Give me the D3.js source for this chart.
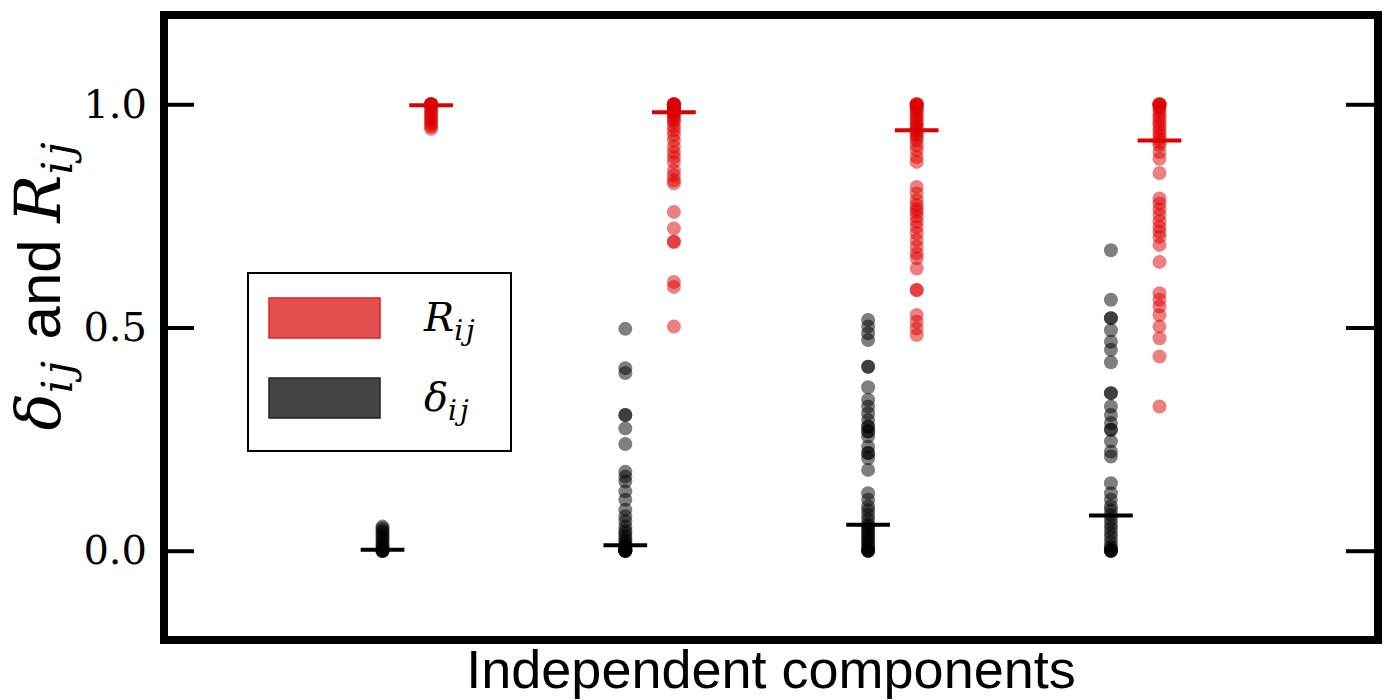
<!DOCTYPE html>
<html>
<head>
<meta charset="utf-8">
<script src="https://cdn.jsdelivr.net/npm/d3@7"></script>
<style>
  body { margin: 0; background: #fff; }
  svg { display: block; }
</style>
</head>
<body>
<div id="chart"></div>
<script>
// component index of each group
const components = [1, 2, 3, 4];

// R_ij values per component (red)
const rValues = [
  [1, 1, 1, 1, 1, 0.998, 0.995, 0.99, 0.985, 0.98, 0.975, 0.97, 0.965, 0.96, 0.955, 0.95, 0.945],
  [1, 1, 1, 1, 0.998, 0.996, 0.994, 0.992, 0.99, 0.988, 0.986, 0.984, 0.982, 0.98, 0.975, 0.97, 0.965, 0.96, 0.95, 0.942, 0.931, 0.919, 0.905, 0.892, 0.882, 0.871, 0.852, 0.841, 0.83, 0.823, 0.759, 0.722, 0.692, 0.692, 0.602, 0.591, 0.502],
  [1, 1, 1, 0.998, 0.995, 0.992, 0.987, 0.982, 0.975, 0.97, 0.964, 0.958, 0.953, 0.948, 0.942, 0.936, 0.931, 0.925, 0.919, 0.908, 0.897, 0.882, 0.871, 0.815, 0.8, 0.785, 0.774, 0.765, 0.759, 0.748, 0.737, 0.725, 0.711, 0.696, 0.681, 0.666, 0.655, 0.632, 0.584, 0.584, 0.528, 0.513, 0.498, 0.483],
  [1, 1, 1, 0.998, 0.995, 0.99, 0.983, 0.975, 0.968, 0.96, 0.953, 0.945, 0.938, 0.93, 0.923, 0.915, 0.908, 0.893, 0.878, 0.846, 0.789, 0.778, 0.765, 0.752, 0.738, 0.725, 0.714, 0.703, 0.685, 0.647, 0.577, 0.562, 0.547, 0.528, 0.502, 0.476, 0.435, 0.323]
];

// delta_ij values per component (black)
const dValues = [
  [0, 0, 0, 0, 0, 0.002, 0.004, 0.006, 0.01, 0.015, 0.02, 0.025, 0.03, 0.035, 0.04, 0.045, 0.05, 0.054],
  [0.497, 0.409, 0.398, 0.304, 0.304, 0.274, 0.239, 0.177, 0.166, 0.155, 0.133, 0.114, 0.092, 0.077, 0.066, 0.054, 0.045, 0.039, 0.032, 0.025, 0.02, 0.015, 0.01, 0.008, 0.005, 0.003, 0.002, 0, 0, 0, 0, 0, 0],
  [0.517, 0.502, 0.487, 0.472, 0.412, 0.412, 0.366, 0.338, 0.323, 0.308, 0.293, 0.278, 0.278, 0.267, 0.267, 0.256, 0.233, 0.219, 0.219, 0.207, 0.181, 0.129, 0.114, 0.099, 0.09, 0.08, 0.07, 0.06, 0.055, 0.05, 0.045, 0.04, 0.035, 0.03, 0.025, 0.02, 0.015, 0.01, 0.005, 0, 0, 0, 0],
  [0.673, 0.562, 0.521, 0.521, 0.494, 0.468, 0.45, 0.422, 0.353, 0.353, 0.323, 0.304, 0.286, 0.271, 0.271, 0.245, 0.222, 0.211, 0.151, 0.129, 0.114, 0.099, 0.09, 0.08, 0.07, 0.06, 0.05, 0.04, 0.03, 0.02, 0.01, 0.005, 0, 0, 0, 0]
];

// median markers
const rMedians = [0.998, 0.982, 0.942, 0.919];
const dMedians = [0.002, 0.012, 0.058, 0.079];

const yTicks = [0, 0.5, 1.0];

// layout
const width = 1386;
const height = 700;
const plotLeft = 164, plotRight = 1378, plotTop = 15, plotBottom = 640;
const offset = 0.1;      // shift of each series from the group centre
const halfBar = 0.09;    // half width of median marker
const red = "#dd0000";
const serifFont = "'DejaVu Serif', 'Liberation Serif', serif";
const sansFont = "'Liberation Sans', Arial, sans-serif";

const svg = d3.select("#chart").append("svg")
  .attr("width", width)
  .attr("height", height);

const x = d3.scaleLinear().domain([0, 5]).range([plotLeft, plotRight]);
const y = d3.scaleLinear().domain([-0.2, 1.2]).range([plotBottom, plotTop]);

// flatten into points
const dPoints = [];
const rPoints = [];
components.forEach((c, i) => {
  dValues[i].forEach(v => dPoints.push({ c, v }));
  rValues[i].forEach(v => rPoints.push({ c, v }));
});

// scatter: delta (black)
svg.append("g").selectAll("circle")
  .data(dPoints)
  .enter().append("circle")
  .attr("cx", d => x(d.c - offset))
  .attr("cy", d => y(d.v))
  .attr("r", 7)
  .attr("fill", "#000")
  .attr("fill-opacity", 0.5);

// scatter: R (red)
svg.append("g").selectAll("circle")
  .data(rPoints)
  .enter().append("circle")
  .attr("cx", d => x(d.c + offset))
  .attr("cy", d => y(d.v))
  .attr("r", 7)
  .attr("fill", red)
  .attr("fill-opacity", 0.5);

// median markers
svg.append("g").selectAll("line")
  .data(components)
  .enter().append("line")
  .attr("x1", (c) => x(c - offset - halfBar))
  .attr("x2", (c) => x(c - offset + halfBar))
  .attr("y1", (c, i) => y(dMedians[i]))
  .attr("y2", (c, i) => y(dMedians[i]))
  .attr("stroke", "#000")
  .attr("stroke-width", 4);

svg.append("g").selectAll("line")
  .data(components)
  .enter().append("line")
  .attr("x1", (c) => x(c + offset - halfBar))
  .attr("x2", (c) => x(c + offset + halfBar))
  .attr("y1", (c, i) => y(rMedians[i]))
  .attr("y2", (c, i) => y(rMedians[i]))
  .attr("stroke", red)
  .attr("stroke-width", 4);

// axes with inward ticks
const yAxisLeft = svg.append("g")
  .attr("transform", `translate(${plotLeft},0)`)
  .call(d3.axisLeft(y).tickValues(yTicks).tickFormat(d3.format(".1f"))
    .tickSizeInner(-30).tickSizeOuter(0).tickPadding(17));
yAxisLeft.select(".domain").remove();
yAxisLeft.selectAll(".tick line").attr("stroke", "#000").attr("stroke-width", 4);
yAxisLeft.selectAll(".tick text")
  .attr("font-family", serifFont)
  .attr("font-size", 40)
  .attr("fill", "#000");

const yAxisRight = svg.append("g")
  .attr("transform", `translate(${plotRight},0)`)
  .call(d3.axisRight(y).tickValues(yTicks).tickFormat("")
    .tickSizeInner(-32).tickSizeOuter(0));
yAxisRight.select(".domain").remove();
yAxisRight.selectAll(".tick line").attr("stroke", "#000").attr("stroke-width", 4);

// frame
svg.append("rect")
  .attr("x", plotLeft)
  .attr("y", plotTop)
  .attr("width", plotRight - plotLeft)
  .attr("height", plotBottom - plotTop)
  .attr("fill", "none")
  .attr("stroke", "#000")
  .attr("stroke-width", 8);

// x label
svg.append("text")
  .attr("x", (plotLeft + plotRight) / 2)
  .attr("y", 688)
  .attr("text-anchor", "middle")
  .attr("font-family", sansFont)
  .attr("font-size", 54)
  .text("Independent components");

// y label: delta_ij and R_ij
const yLabel = svg.append("text")
  .attr("transform", "translate(60,284) rotate(-90)")
  .attr("text-anchor", "middle")
  .attr("font-size", 60);
yLabel.append("tspan").attr("font-family", serifFont).attr("font-style", "italic")
  .attr("font-size", 62).text("δ");
yLabel.append("tspan").attr("font-family", serifFont).attr("font-style", "italic")
  .attr("font-size", 43).attr("letter-spacing", 5).attr("dy", 12).text("ij");
yLabel.append("tspan").attr("font-family", sansFont).attr("dy", -12).text(" and ");
yLabel.append("tspan").attr("font-family", serifFont).attr("font-style", "italic")
  .attr("font-size", 64).text("R");
yLabel.append("tspan").attr("font-family", serifFont).attr("font-style", "italic")
  .attr("font-size", 43).attr("letter-spacing", 5).attr("dy", 12).text("ij");

// legend
const legend = svg.append("g");
legend.append("rect")
  .attr("x", 248).attr("y", 273)
  .attr("width", 263).attr("height", 178)
  .attr("fill", "#fff")
  .attr("stroke", "#000")
  .attr("stroke-width", 2);

const legendItems = [
  { label: "R", fill: "#e45050", stroke: "#dd2222", y: 298 },
  { label: "δ", fill: "#444444", stroke: "#222222", y: 378 }
];

legendItems.forEach(item => {
  legend.append("rect")
    .attr("x", 269).attr("y", item.y)
    .attr("width", 111).attr("height", 40)
    .attr("fill", item.fill)
    .attr("stroke", item.stroke)
    .attr("stroke-width", 1.5);
  const t = legend.append("text")
    .attr("x", 424)
    .attr("y", item.y + 33)
    .attr("font-family", serifFont)
    .attr("font-style", "italic")
    .attr("font-size", 40);
  t.append("tspan").text(item.label);
  t.append("tspan").attr("font-size", 28).attr("letter-spacing", 3).attr("dy", 9).text("ij");
});
</script>
</body>
</html>
